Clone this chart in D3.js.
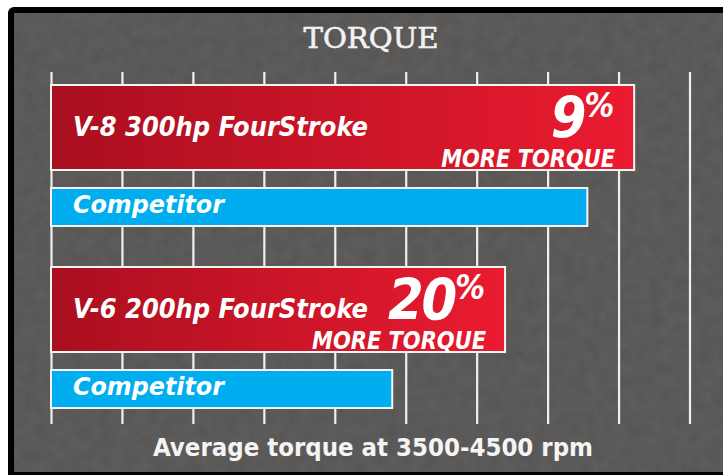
<!DOCTYPE html>
<html>
<head>
<meta charset="utf-8">
<script src="https://cdn.jsdelivr.net/npm/d3@7"></script>
<style>
  html, body { margin: 0; padding: 0; background: #ffffff; }
  .cond { font-family: "DejaVu Sans Condensed", "DejaVu Sans", sans-serif; font-stretch: condensed; font-weight: bold; }
</style>
</head>
<body>
<div id="chart-area"></div>
<script>
// DATA (in grid units)
const engines = ["V-8 300hp FourStroke", "V-6 200hp FourStroke"]
const mercuryTorque = [8.22, 6.40]
const competitorTorque = [7.56, 4.81]
const gains = [9, 20]
const competitorLabel = "Competitor"
const gridTicks = [0, 1, 2, 3, 4, 5, 6, 7, 8, 9]
const title = "TORQUE"
const footer = "Average torque at 3500-4500 rpm"

// SIZES
const W = 723
const H = 475
const PLOT = { LEFT: 51, RIGHT: 689.5, TOP: 72, BOTTOM: 424 }
const RED_H = 85
const BLUE_GAP = 18
const BLUE_H = 38

// CANVAS
const svg = d3.select("#chart-area").append("svg")
  .attr("width", W)
  .attr("height", H)
  .style("display", "block")

const defs = svg.append("defs")
const grad = defs.append("linearGradient")
  .attr("id", "redGrad")
  .attr("x1", "0").attr("x2", "1").attr("y1", "0").attr("y2", "0")
grad.append("stop").attr("offset", "0%").attr("stop-color", "#a90f1f")
grad.append("stop").attr("offset", "100%").attr("stop-color", "#eb1b30")

// fine concrete grain for the background
const noise = defs.append("filter").attr("id", "noise")
  .attr("x", 0).attr("y", 0).attr("width", 1).attr("height", 1)
noise.append("feTurbulence")
  .attr("type", "fractalNoise").attr("baseFrequency", 0.08).attr("numOctaves", 4).attr("seed", 7)
noise.append("feColorMatrix")
  .attr("type", "matrix")
  .attr("values", "0 0 0 0 0.36  0 0 0 0 0.355  0 0 0 0 0.35  0 0 0 0.5 0")

// FRAME
svg.append("rect")
  .attr("x", 8).attr("y", 7)
  .attr("width", W).attr("height", H)
  .attr("rx", 6)
  .attr("fill", "#000000")
svg.append("rect")
  .attr("x", 14).attr("y", 13)
  .attr("width", W - 14).attr("height", 459)
  .attr("fill", "#565453")
svg.append("rect")
  .attr("x", 14).attr("y", 13)
  .attr("width", W - 14).attr("height", 459)
  .attr("filter", "url(#noise)")
  .attr("opacity", 0.3)

// TITLE
svg.append("text")
  .attr("x", 371)
  .attr("y", 48)
  .attr("text-anchor", "middle")
  .attr("font-family", "'DejaVu Serif', serif")
  .attr("font-size", "28px")
  .attr("fill", "#f2f2f2")
  .attr("stroke", "#f2f2f2")
  .attr("stroke-width", 0.6)
  .attr("textLength", 135)
  .attr("lengthAdjust", "spacingAndGlyphs")
  .text(title)

// SCALES
const x = d3.scaleLinear()
  .domain([0, 9])
  .range([PLOT.LEFT, PLOT.RIGHT])

const y = d3.scaleBand()
  .domain(engines)
  .range([85, 85 + 2 * 182])

// GRIDLINES
const grid = svg.append("g")
  .attr("transform", `translate(0, ${PLOT.TOP})`)
  .call(d3.axisBottom(x)
    .tickValues(gridTicks)
    .tickSize(PLOT.BOTTOM - PLOT.TOP)
    .tickFormat(""))
grid.select(".domain").remove()
grid.selectAll(".tick line")
  .attr("stroke", "#f0f0f0")
  .attr("stroke-width", 2.2)

// BARS
const rows = engines.map((name, i) => ({
  name: name,
  mercury: mercuryTorque[i],
  competitor: competitorTorque[i],
  gain: gains[i]
}))

const group = svg.selectAll(".engine")
  .data(rows)
  .enter().append("g")
  .attr("class", "engine")
  .attr("transform", d => `translate(0, ${y(d.name)})`)

// red bar (Mercury)
group.append("rect")
  .attr("x", x(0))
  .attr("y", 0)
  .attr("width", d => x(d.mercury) - x(0))
  .attr("height", RED_H)
  .attr("fill", "url(#redGrad)")
  .attr("stroke", "#f4f4f4")
  .attr("stroke-width", 2)

// blue bar (competitor)
group.append("rect")
  .attr("x", x(0))
  .attr("y", RED_H + BLUE_GAP)
  .attr("width", d => x(d.competitor) - x(0))
  .attr("height", BLUE_H)
  .attr("fill", "#00aeef")
  .attr("stroke", "#f4f4f4")
  .attr("stroke-width", 2)

// engine names
group.append("text")
  .attr("class", "cond")
  .attr("x", x(0) + 22)
  .attr("y", 51)
  .attr("font-size", "27px")
  .attr("font-style", "italic")
  .attr("fill", "#ffffff")
  .attr("textLength", 295)
  .attr("lengthAdjust", "spacingAndGlyphs")
  .text(d => d.name)

// competitor label
group.append("text")
  .attr("class", "cond")
  .attr("x", x(0) + 22)
  .attr("y", RED_H + BLUE_GAP + 25)
  .attr("font-size", "25px")
  .attr("font-style", "italic")
  .attr("fill", "#ffffff")
  .attr("textLength", 151)
  .attr("lengthAdjust", "spacingAndGlyphs")
  .text(competitorLabel)

// big percentage: number plus raised % sign
const pct = group.append("text")
  .attr("class", "cond")
  .attr("x", d => x(d.mercury) - 20)
  .attr("y", 53)
  .attr("text-anchor", "end")
  .attr("font-style", "italic")
  .attr("fill", "#ffffff")
pct.append("tspan")
  .attr("font-size", "57px")
  .attr("letter-spacing", "-2px")
  .text(d => d.gain)
pct.append("tspan")
  .attr("font-size", "33px")
  .attr("dy", -21)
  .text("%")

// MORE TORQUE
group.append("text")
  .attr("class", "cond")
  .attr("x", d => x(d.mercury) - 19)
  .attr("y", 82)
  .attr("text-anchor", "end")
  .attr("font-size", "24px")
  .attr("font-style", "italic")
  .attr("font-weight", "normal")
  .attr("fill", "#ffffff")
  .attr("textLength", 174)
  .attr("lengthAdjust", "spacingAndGlyphs")
  .text("MORE TORQUE")

// FOOTER
svg.append("text")
  .attr("class", "cond")
  .attr("x", 373)
  .attr("y", 456)
  .attr("text-anchor", "middle")
  .attr("font-size", "25px")
  .attr("fill", "#f4f4f4")
  .attr("textLength", 440)
  .attr("lengthAdjust", "spacingAndGlyphs")
  .text(footer)
</script>
</body>
</html>
